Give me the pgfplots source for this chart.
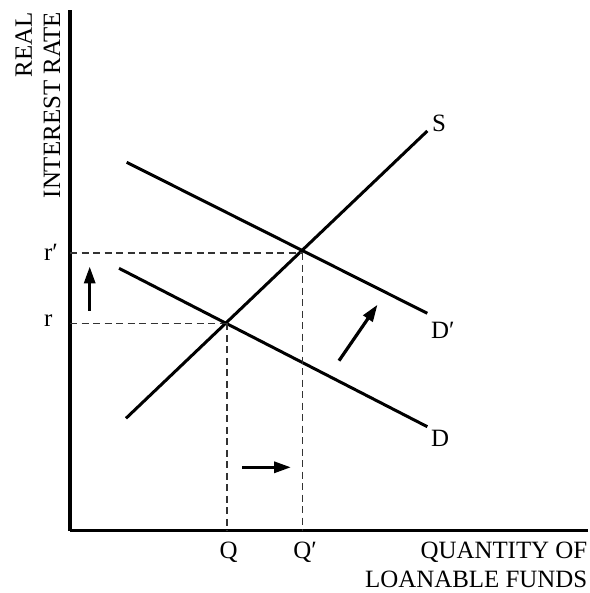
\documentclass[border=0pt]{standalone}
\usepackage{fontspec}
\setmainfont{Liberation Serif}
\usepackage{pgfplots}
\pgfplotsset{compat=1.18}
\usetikzlibrary{arrows.meta}
\begin{document}
\fontsize{25}{30}\selectfont
\begin{tikzpicture}[x=1bp,y=1bp,font=\fontsize{25}{30}\selectfont]
\begin{axis}[
  scale only axis, width=518bp, height=520.5bp,
  xmin=70, xmax=588, ymin=0, ymax=520.5,
  axis x line=bottom, axis y line=left,
  axis line style={line width=3bp,-},
  xtick=\empty, ytick=\empty,
  clip=false,
]
\path (axis cs:0,-62.5) rectangle (axis cs:588,530.5);
% curves
\addplot[black, line width=3bp] coordinates {(126,112.2) (427.3,399.5)};
\addplot[black, line width=3bp] coordinates {(126.7,368.2) (427.3,217.2)};
\addplot[black, line width=3bp] coordinates {(119,262.2) (427.3,103.8)};
% dashed guides
\addplot[black!80, line width=1.5bp, dash pattern=on 7bp off 4.5bp] coordinates {(70,207.2) (227,207.2)};
\addplot[black!80, line width=1.5bp, dash pattern=on 7bp off 4.5bp] coordinates {(227,207.2) (227,0)};
\addplot[black!80, line width=1.5bp, dash pattern=on 7bp off 4.5bp] coordinates {(70,277.3) (302.5,277.3)};
\addplot[black!80, line width=1.5bp, dash pattern=on 7bp off 4.5bp] coordinates {(302.5,277.3) (302.5,0)};
% arrows
\addplot[black, line width=3.2bp, -{Triangle[length=17bp,width=11bp]}] coordinates {(89.7,219.5) (89.7,264)};
\addplot[black, line width=3.2bp, -{Triangle[length=17bp,width=11bp]}] coordinates {(242.3,63.2) (291,63.2)};
\addplot[black, line width=3.2bp, -{Triangle[length=17bp,width=11bp]}] coordinates {(339,169.8) (377.5,225.8)};
% labels
\node[anchor=base east, rotate=90, inner sep=0pt] at (axis cs:32,518.5) {REAL};
\node[anchor=base east, rotate=90, inner sep=0pt] at (axis cs:60,518.5) {INTEREST RATE};
\node[anchor=west, inner sep=0pt] at (axis cs:44,210) {r};
\node[anchor=west, inner sep=0pt] at (axis cs:44,278) {r′};
\node[anchor=base, inner sep=0pt] at (axis cs:228.5,-28) {Q};
\node[anchor=base, inner sep=0pt] at (axis cs:305,-28) {Q′};
\node[anchor=base east, inner sep=0pt] at (axis cs:587.5,-28) {QUANTITY OF};
\node[anchor=base east, inner sep=0pt] at (axis cs:587.5,-57) {LOANABLE FUNDS};
\node[inner sep=0pt] at (axis cs:439,407.5) {S};
\node[anchor=west, inner sep=0pt] at (axis cs:431,200.5) {D′};
\node[anchor=west, inner sep=0pt] at (axis cs:431,92.5) {D};
\end{axis}
\end{tikzpicture}
\end{document}
